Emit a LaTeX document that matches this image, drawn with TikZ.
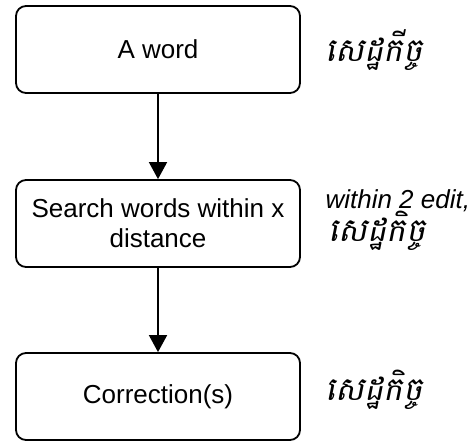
\documentclass[tikz,border=0pt]{standalone}
\usepackage{fontspec}
\setmainfont{Liberation Sans}
\newfontfamily\khmerfont[Script=Khmer,FakeSlant=0.2,Scale=1.25]{Battambang}
\usetikzlibrary{arrows.meta}
\tikzset{
  stepbox/.style={draw, line width=1.8pt, rounded corners=10pt,
    minimum width=284pt, minimum height=87pt, align=center,
    font=\fontsize{26}{30}\selectfont},
  note/.style={anchor=west, align=left, font=\fontsize{26}{30}\selectfont\itshape},
  flow/.style={-{Triangle[length=17pt,width=18pt]}, line width=1.8pt}
}
\begin{document}
\begin{tikzpicture}[x=1pt,y=-1pt]
          \useasboundingbox (0,0) rectangle (470,441);
          \node[stepbox] (word) at (158,49.5) {A word};
          \node[stepbox] (search) at (158,223.5) {Search words within x\\distance};
          \node[stepbox] (corr) at (158,396.5) {Correction(s)};

          \node[note] (n1) at (322,50) {\khmerfont សេដ្ឋកីច្ច};
          \node[note] (n2) at (322,220) {within 2 edit,\\[-1pt] \hspace{3pt}\khmerfont សេដ្ឋកិច្ច};
          \node[note] (n3) at (322,390) {\khmerfont សេដ្ឋកិច្ច};

          \draw [flow] (word) -- (search);
          \draw [flow] (search) -- (corr);
\end{tikzpicture}
\end{document}
